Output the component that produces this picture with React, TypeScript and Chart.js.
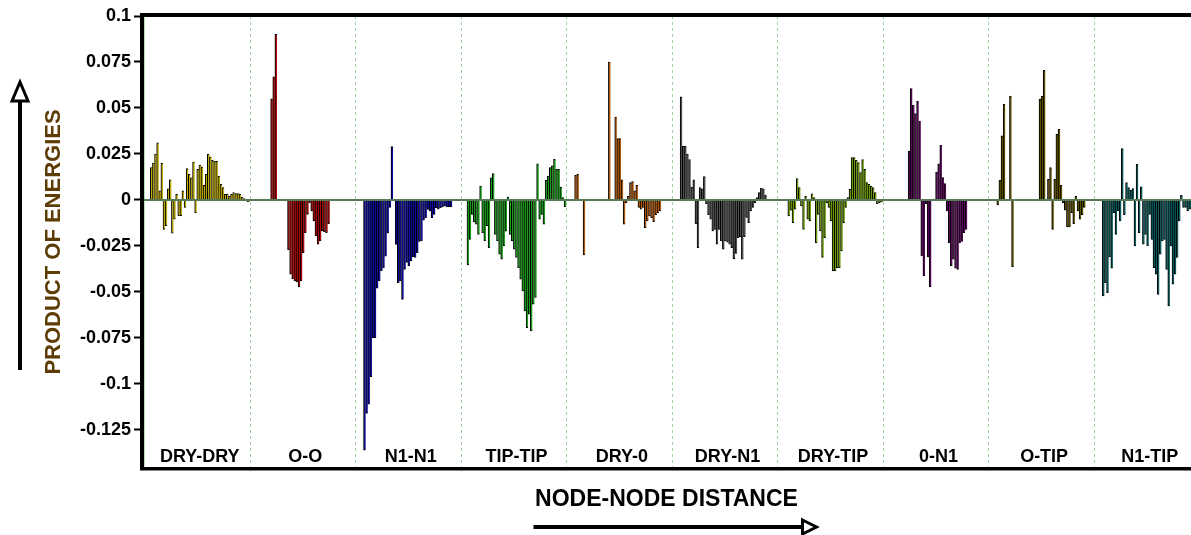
import React, { useEffect, useRef } from 'react';
import { Chart, registerables } from 'chart.js';

Chart.register(...registerables);

const panelNames = ['DRY-DRY', 'O-O', 'N1-N1', 'TIP-TIP', 'DRY-0', 'DRY-N1', 'DRY-TIP', '0-N1', 'O-TIP', 'N1-TIP'];
const panelColors = ['#bcaa08', '#a80808', '#0c0c9c', '#1c9c1c', '#b0590c', '#505050', '#6c9c0c', '#580858', '#5c5000', '#0c5a5c'];
const yTickValues = [0.1, 0.075, 0.05, 0.025, 0, -0.025, -0.05, -0.075, -0.1, -0.125];
const yTickLabels = ['0.1', '0.075', '0.05', '0.025', '0', '-0.025', '-0.05', '-0.075', '-0.1', '-0.125'];
const yMin = -0.1457;
const yMax = 0.1;
const SLOTS = 50;
const _ = null;

const dryDry = [_, _, _, 0.0176, 0.020, 0.025, 0.031, 0.005, 0.020, -0.016, -0.014, 0.006, 0.011, -0.018, -0.0105, 0.003, -0.0087, -0.0085, 0.005, -0.004, 0.017, 0.014, 0.012, 0.0206, -0.007, 0.0167, 0.019, 0.018, 0.008, 0.014, 0.0248, 0.0235, 0.0215, 0.021, 0.021, 0.013, 0.0085, 0.0067, 0.003, 0.003, 0.002, 0.003, 0.004, 0.0035, 0.0035, 0.003, 0.0015, 0.0007, -0.0005, -0.001];
const oO = [_, _, _, _, _, _, _, _, _, _, 0.055, 0.067, 0.090, _, _, _, _, _, -0.0272, -0.0404, -0.0428, -0.044, -0.0446, -0.0473, -0.044, -0.0286, -0.0178, -0.0078, -0.0015, -0.006, -0.0114, -0.0196, -0.024, -0.0223, -0.0168, -0.0172, -0.0178, -0.0129, _, _, _, _, _, _, _, _, _, _, _, _];
const n1N1 = [_, _, _, _, -0.136, -0.116, -0.111, -0.096, -0.075, -0.075, -0.048, -0.044, -0.0385, -0.037, -0.0305, -0.018, -0.004, 0.029, _, -0.0241, -0.0449, -0.044, -0.054, -0.0377, -0.034, -0.0359, -0.0332, -0.031, -0.0313, -0.0286, -0.0226, -0.0223, -0.011, -0.0096, -0.0051, -0.006, -0.0096, -0.0078, -0.0042, -0.005, -0.0042, -0.0038, -0.0033, -0.0038, -0.0038, -0.0038, _, _, _, _];
const tipTip = [_, _, _, -0.0353, -0.0214, -0.0078, -0.012, -0.0132, -0.0187, 0.0076, -0.0178, -0.0223, -0.014, -0.026, 0.012, 0.0143, -0.0187, -0.0223, -0.0295, -0.0322, -0.025, -0.017, 0.0015, -0.0187, -0.0223, -0.0268, -0.0313, -0.0368, -0.0431, -0.0495, -0.0603, -0.0694, -0.0621, -0.0712, -0.0567, -0.053, 0.0197, -0.0105, -0.0078, -0.0132, 0.0107, 0.013, 0.0176, 0.0185, 0.0221, 0.0167, 0.0167, 0.007, 0.0013, -0.0038];
const dry0 = [_, _, _, _, 0.0134, 0.014, _, _, -0.0299, _, _, _, _, _, _, _, _, _, _, _, 0.075, _, _, 0.045, 0.0333, 0.0333, 0.011, -0.0132, -0.0015, 0.002, 0.0094, 0.01, 0.005, 0.008, -0.004, -0.005, -0.004, -0.015, -0.0114, -0.0087, -0.0096, -0.0118, -0.008, -0.0069, -0.006, -0.0005, _, _, _, _];
const dryN1 = [_, _, _, _, 0.056, 0.0293, 0.0293, 0.025, 0.022, 0.007, 0.011, -0.013, -0.026, 0.0067, 0.006, 0.0127, -0.002, -0.008, -0.0105, -0.0168, -0.016, -0.024, -0.016, -0.0223, -0.0268, -0.0223, -0.023, -0.024, -0.026, -0.0319, -0.029, -0.0205, -0.020, -0.0322, -0.020, -0.0095, -0.0123, -0.006, -0.004, -0.0015, 0.0013, 0.004, 0.0063, 0.006, 0.0027, _, _, _, _, _];
const dryTip = [_, _, _, _, 0.0004, -0.0087, -0.0056, -0.0123, -0.005, 0.0116, 0.0067, -0.0033, -0.016, 0.002, -0.0105, -0.0114, 0.0034, 0.0013, -0.0232, -0.0078, -0.0168, -0.0313, -0.0205, -0.0015, -0.004, -0.0114, -0.0386, -0.0386, -0.0368, -0.0368, -0.0277, -0.0123, -0.004, 0.0013, 0.0058, 0.023, 0.023, 0.0216, 0.0203, 0.0149, 0.022, 0.0167, 0.0094, 0.0085, 0.0076, 0.0067, 0.004, -0.002, -0.0015, -0.001];
const zeroN1 = [_, _, _, _, _, _, _, _, _, _, _, _, 0.0266, 0.0605, 0.0514, 0.0469, 0.0538, 0.0429, -0.0304, -0.0413, -0.002, -0.031, -0.0473, _, _, 0.0152, 0.0197, 0.0297, 0.0121, 0.0089, -0.006, -0.0232, -0.0359, -0.0322, -0.0371, -0.0377, -0.0232, -0.0225, -0.0178, -0.016, _, _, _, _, _, _, _, _, _, _];
const oTip = [_, _, _, _, -0.0027, 0.0107, 0.0348, 0.052, _, _, 0.0565, -0.0364, _, _, _, _, _, _, _, _, _, _, _, _, 0.0547, 0.0565, 0.0705, _, 0.0112, 0.0176, -0.016, 0.0112, 0.0357, 0.0384, 0.008, -0.0015, -0.0056, -0.0147, -0.0145, -0.0069, -0.0129, 0.002, -0.006, -0.0105, -0.008, -0.004, _, _, _, _];
const n1Tip = [_, _, _, _, -0.0522, -0.045, -0.0504, -0.031, -0.0371, -0.0069, -0.0187, -0.006, -0.0114, 0.0279, -0.008, 0.0094, 0.0067, 0.0053, 0.0062, -0.025, 0.0194, -0.0178, 0.0071, -0.024, -0.0187, -0.025, -0.0078, -0.0214, -0.0368, -0.0404, -0.0513, -0.0295, -0.0223, -0.0214, -0.0377, -0.0576, -0.025, -0.0458, -0.0404, -0.0313, -0.0114, 0.0025, -0.004, -0.004, -0.006, -0.005];

const panels = [dryDry, oO, n1N1, tipTip, dry0, dryN1, dryTip, zeroN1, oTip, n1Tip];

const FONT = '"Liberation Sans", Arial, sans-serif';

function buildSeries() {
  const values: (number | null)[] = [];
  const colors: string[] = [];
  panels.forEach((arr, p) => {
    const len = p === panels.length - 1 ? arr.length : SLOTS;
    for (let i = 0; i < len; i++) {
      const v = arr[i];
      values.push(v === undefined ? null : v);
      colors.push(panelColors[p]);
    }
  });
  return { values, colors };
}

function drawOpenArrowHead(ctx: CanvasRenderingContext2D, pts: number[][]) {
  ctx.beginPath();
  ctx.moveTo(pts[0][0], pts[0][1]);
  for (let i = 1; i < pts.length; i++) ctx.lineTo(pts[i][0], pts[i][1]);
  ctx.closePath();
  ctx.fillStyle = '#fff';
  ctx.fill();
  ctx.lineWidth = 3;
  ctx.lineJoin = 'miter';
  ctx.strokeStyle = '#000';
  ctx.stroke();
}

const decorPlugin = {
  id: 'decor',
  beforeDatasetsDraw(chart: any) {
    const { ctx, chartArea: ca, scales } = chart;
    const x = scales.x;
    ctx.save();
    ctx.strokeStyle = '#9fd09f';
    ctx.lineWidth = 1;
    ctx.setLineDash([3, 3]);
    for (let k = 1; k < panelNames.length; k++) {
      const i = k * SLOTS;
      const px = Math.round((x.getPixelForValue(i - 1) + x.getPixelForValue(i)) / 2) + 0.5;
      ctx.beginPath();
      ctx.moveTo(px, ca.top);
      ctx.lineTo(px, ca.bottom);
      ctx.stroke();
    }
    ctx.setLineDash([]);
    ctx.strokeStyle = '#b8e0b8';
    ctx.beginPath();
    ctx.moveTo(ca.left + 0.5, ca.top);
    ctx.lineTo(ca.left + 0.5, ca.bottom);
    ctx.stroke();
    ctx.restore();
  },
  afterDatasetsDraw(chart: any) {
    const { ctx, chartArea: ca, scales } = chart;
    const x = scales.x;
    const y = scales.y;
    ctx.save();
    const y0 = y.getPixelForValue(0);
    ctx.strokeStyle = '#587a58';
    ctx.lineWidth = 2;
    ctx.beginPath();
    ctx.moveTo(ca.left, y0);
    ctx.lineTo(ca.right, y0);
    ctx.stroke();
    ctx.fillStyle = '#000';
    ctx.fillRect(ca.left - 4, ca.top - 3, ca.right - ca.left + 4, 4);
    ctx.fillRect(ca.left - 4, ca.top - 3, 4, ca.bottom - ca.top + 5);
    ctx.fillRect(ca.left - 4, ca.bottom - 1, ca.right - ca.left + 4, 3.5);
    ctx.font = `bold 18px ${FONT}`;
    ctx.textAlign = 'center';
    ctx.textBaseline = 'middle';
    ctx.fillStyle = '#000';
    panelNames.forEach((name, k) => {
      const a = x.getPixelForValue(k * SLOTS);
      const b = x.getPixelForValue(k * SLOTS + SLOTS - 1);
      ctx.fillText(name, (a + b) / 2 + 3, ca.bottom - 11);
    });
    ctx.restore();
  },
  afterDraw(chart: any) {
    const { ctx, chartArea: ca } = chart;
    ctx.save();
    const cx = (ca.left + ca.right) / 2 - 1;
    ctx.font = `bold 23px ${FONT}`;
    ctx.textAlign = 'center';
    ctx.textBaseline = 'middle';
    ctx.fillStyle = '#000';
    ctx.fillText('NODE-NODE DISTANCE', cx, ca.bottom + 32);
    const ay = ca.bottom + 59;
    ctx.strokeStyle = '#000';
    ctx.lineWidth = 4;
    ctx.beginPath();
    ctx.moveTo(cx - 133, ay);
    ctx.lineTo(cx + 136, ay);
    ctx.stroke();
    drawOpenArrowHead(ctx, [[cx + 136, ay - 7], [cx + 150, ay], [cx + 136, ay + 7]]);
    const ax = 20;
    ctx.lineWidth = 4;
    ctx.beginPath();
    ctx.moveTo(ax, ca.top + 354);
    ctx.lineTo(ax, ca.top + 86);
    ctx.stroke();
    drawOpenArrowHead(ctx, [[ax - 8, ca.top + 85], [ax, ca.top + 66], [ax + 8, ca.top + 85]]);
    ctx.restore();
  },
};

export default function App() {
  const ref = useRef<HTMLCanvasElement | null>(null);
  useEffect(() => {
    if (!ref.current) return;
    const { values, colors } = buildSeries();
    const chart = new Chart(ref.current, {
      type: 'bar',
      data: {
        labels: values.map((_v, i) => String(i)),
        datasets: [
          {
            data: values,
            backgroundColor: colors,
            borderColor: '#000',
            borderWidth: { left: 1, right: 0, top: 1, bottom: 1 },
            borderSkipped: 'start',
            barPercentage: 1,
            categoryPercentage: 1,
          },
        ],
      },
      options: {
        responsive: false,
        animation: false,
        events: [],
        layout: { padding: { left: 0, right: 0, top: 16, bottom: 67 } },
        plugins: { legend: { display: false }, tooltip: { enabled: false } },
        scales: {
          x: { display: false },
          y: {
            min: yMin,
            max: yMax,
            afterFit: (scale: any) => {
              scale.width = 144;
            },
            afterBuildTicks: (scale: any) => {
              scale.ticks = yTickValues.map((v) => ({ value: v }));
            },
            ticks: {
              autoSkip: false,
              padding: 3,
              color: '#000',
              font: { family: FONT, size: 18, weight: 'bold' },
              callback: (v: any) => {
                const i = yTickValues.indexOf(Number(v));
                return i >= 0 ? yTickLabels[i] : '';
              },
            },
            grid: { drawOnChartArea: false, drawTicks: true, tickLength: 10, tickColor: '#000', tickWidth: 2 },
            border: { display: false },
            title: {
              display: true,
              text: 'PRODUCT OF ENERGIES',
              color: '#5e3c06',
              font: { family: FONT, size: 22, weight: 'bold' },
              padding: { top: 41, bottom: 0 },
            },
          },
        },
      },
      plugins: [decorPlugin],
    });
    return () => chart.destroy();
  }, []);
  return (
    <div style={{ position: 'absolute', left: 0, top: 0, width: 1191, height: 535, background: '#fff' }}>
      <canvas ref={ref} width={1191} height={535} style={{ display: 'block' }} />
    </div>
  );
}
